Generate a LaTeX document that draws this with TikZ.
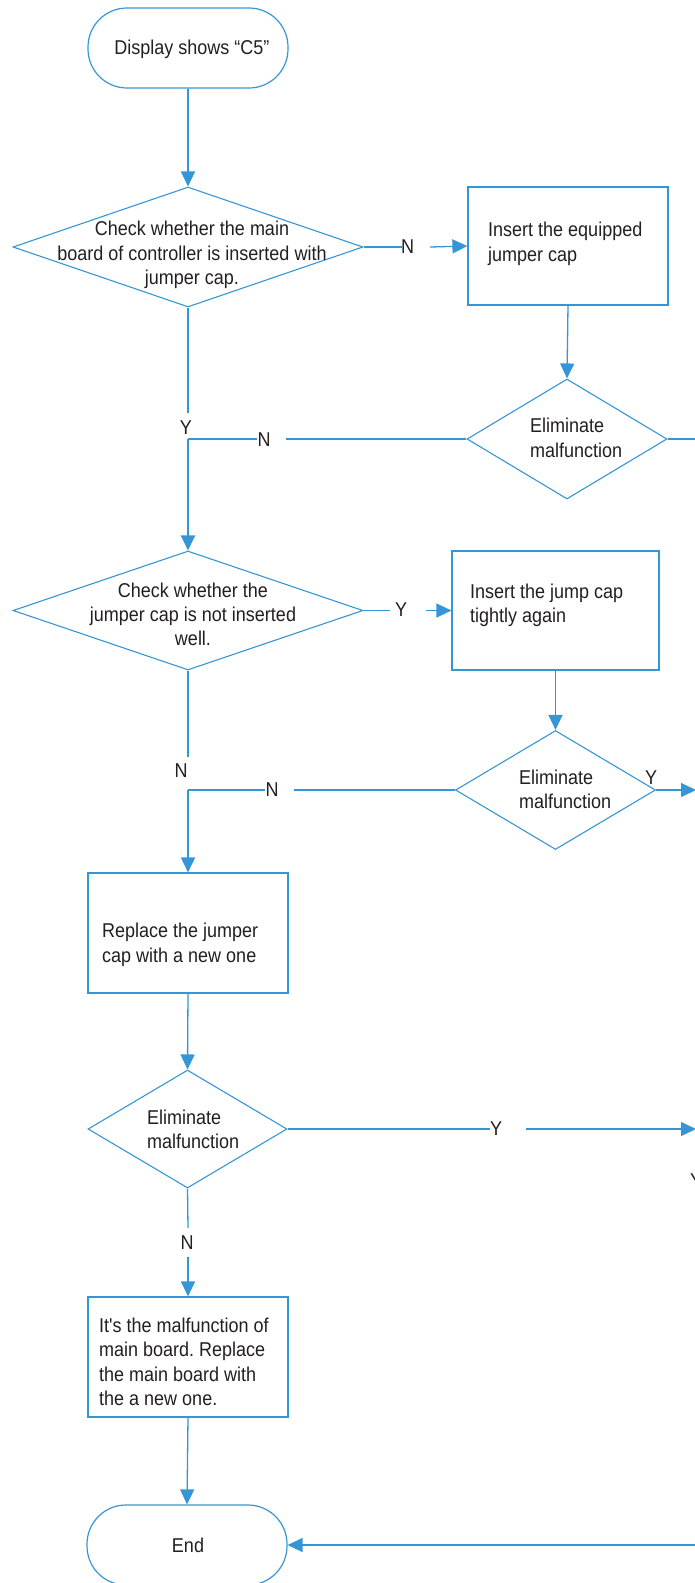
\documentclass[tikz,border=0pt]{standalone}
\usepackage{fontspec}
\setmainfont{Liberation Sans}[FakeStretch=0.9, Ligatures=TeXOff]
\usetikzlibrary{shapes.geometric,arrows.meta}
\definecolor{lblue}{RGB}{52,150,214}
\definecolor{tgray}{RGB}{35,31,32}
\frenchspacing
\begin{document}
\begin{tikzpicture}[x=1pt,y=-1pt,
  terminal/.style={draw=lblue, line width=1.2pt, rectangle, rounded corners=39pt, minimum width=200pt, minimum height=80pt, inner sep=0pt},
  dec/.style={draw=lblue, diamond, line width=1.1pt, inner sep=0pt},
  proc/.style={draw=lblue, rectangle, line width=1.2pt, inner sep=0pt},
  txt/.style={text=tgray, font=\fontsize{20}{24}\selectfont\frenchspacing, inner sep=0pt},
  tl/.style={txt, anchor=base west},
  tc/.style={txt, anchor=base},
  conn/.style={draw=lblue, line width=1.3pt},
  thick conn/.style={draw=lblue, line width=2pt},
  arr/.style={-{Triangle[length=15pt,width=14pt]}}]
\useasboundingbox (0,0) rectangle (695,1583);
% nodes
\node[terminal] (start) at (188,48) {};
\node[tc] (startt) at (192,54) {Display shows “C5”};

\node[dec, minimum width=350pt, minimum height=120pt] (d1) at (188,247) {};
\node[tc] (d1a) at (192,235) {Check whether the main};
\node[tc] (d1b) at (192,260) {board of controller is inserted with};
\node[tc] (d1c) at (192,284) {jumper cap.};

\node[proc, minimum width=200pt, minimum height=118pt] (b1) at (568,246) {};
\node[tl] (b1a) at (488,236) {Insert the equipped};
\node[tl] (b1b) at (488,261) {jumper cap};

\node[dec, minimum width=200pt, minimum height=120pt] (d2) at (567,439) {};
\node[tl] (d2a) at (530,432) {Eliminate};
\node[tl] (d2b) at (530,457) {malfunction};

\node[dec, minimum width=350pt, minimum height=119pt] (d3) at (188,610.5) {};
\node[tc] (d3a) at (193,597) {Check whether the};
\node[tc] (d3b) at (193,621) {jumper cap is not inserted};
\node[tc] (d3c) at (193,645) {well.};

\node[proc, minimum width=207pt, minimum height=119pt] (b2) at (555.5,610.5) {};
\node[tl] (b2a) at (470,598) {Insert the jump cap};
\node[tl] (b2b) at (470,622) {tightly again};

\node[dec, minimum width=200pt, minimum height=119pt] (d4) at (555.5,790) {};
\node[tl] (d4a) at (519,784) {Eliminate};
\node[tl] (d4b) at (519,808) {malfunction};

\node[proc, minimum width=200pt, minimum height=120pt] (b3) at (188,933) {};
\node[tl] (b3a) at (102,937) {Replace the jumper};
\node[tl] (b3b) at (102,962) {cap with a new one};

\node[dec, minimum width=199pt, minimum height=118pt] (d5) at (187.5,1129) {};
\node[tl] (d5a) at (147,1124) {Eliminate};
\node[tl] (d5b) at (147,1148) {malfunction};

\node[proc, minimum width=200pt, minimum height=120pt] (b4) at (188,1357) {};
\node[tl] (b4a) at (99,1332) {It's the malfunction of};
\node[tl] (b4b) at (99,1356) {main board. Replace};
\node[tl] (b4c) at (99,1381) {the main board with};
\node[tl] (b4d) at (99,1405) {the a new one.};

\node[terminal] (end) at (187,1545) {};
\node[tc] (endt) at (188,1552) {End};

% labels
\node[txt] (ln1) at (407.5,247) {N};
\node[txt] (ly1) at (186,428) {Y};
\node[txt] (ln2) at (264,440) {N};
\node[txt] (ly3) at (401,610) {Y};
\node[txt] (ln3) at (181,771) {N};
\node[txt] (ln4) at (272,790) {N};
\node[txt] (ly4) at (651,778) {Y};
\node[txt] (ly5) at (496,1129) {Y};
\node[txt] (ly6) at (696,1181) {Y};
\node[txt] (ln5) at (187,1242.5) {N};

% coordinates
\coordinate (g1a) at (402,247);
\coordinate (g1b) at (430,247);
\coordinate (y1a) at (188,413);
\coordinate (j1) at (188,439);
\coordinate (g2a) at (257,439);
\coordinate (g2b) at (286,439);
\coordinate (d2r) at (720,439);
\coordinate (g3a) at (390,610.5);
\coordinate (g3b) at (426,610.5);
\coordinate (n3a) at (188,757);
\coordinate (j2) at (188,790);
\coordinate (g4a) at (265,790);
\coordinate (g4b) at (294,790);
\coordinate (d4r) at (696,790);
\coordinate (g5a) at (490,1129);
\coordinate (g5b) at (526,1129);
\coordinate (d5r) at (696,1129);
\coordinate (n5a) at (188,1228);
\coordinate (n5b) at (188,1257);
\coordinate (endr) at (720,1545);

% connectors
\draw[conn,arr] (start.south) -- (d1.north);
\draw[conn] (d1.east) -- (g1a);
\draw[conn,arr] (g1b) -- (b1.west);
\draw[conn,arr] (b1.south) -- (d2.north);
\draw[conn] (d2.east) -- (d2r);
\draw[conn] (d2.west) -- (g2b);
\draw[conn] (g2a) -- (j1);
\draw[conn] (d1.south) -- (y1a);
\draw[thick conn,arr] (j1) -- (d3.north);
\draw[conn] (d3.east) -- (g3a);
\draw[conn,arr] (g3b) -- (b2.west);
\draw[conn,arr] (b2.south) -- (d4.north);
\draw[conn,arr] (d4.east) -- (d4r);
\draw[conn] (d4.west) -- (g4b);
\draw[conn] (g4a) -- (j2);
\draw[conn] (d3.south) -- (n3a);
\draw[thick conn,arr] (j2) -- (b3.north);
\draw[conn,arr] (b3.south) -- (d5.north);
\draw[conn] (d5.east) -- (g5a);
\draw[conn,arr] (g5b) -- (d5r);
\draw[conn] (d5.south) -- (n5a);
\draw[conn,arr] (n5b) -- (b4.north);
\draw[conn,arr] (b4.south) -- (end.north);
\draw[conn,arr] (endr) -- (end.east);
\end{tikzpicture}
\end{document}
